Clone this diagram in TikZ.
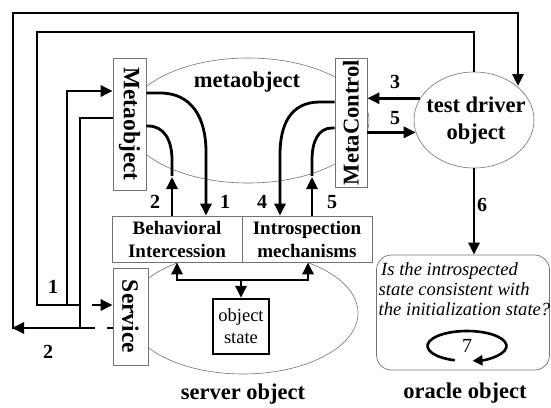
\documentclass[tikz,border=0pt]{standalone}
\usepackage{fontspec}
\usepackage{graphicx}
\setmainfont{Liberation Serif}
\usetikzlibrary{arrows.meta,shapes.geometric,calc}
\begin{document}
\begin{tikzpicture}[x=1pt,y=-1pt,
  graybox/.style={draw=black!55, line width=0.7pt, fill=white, inner sep=0pt},
  grayell/.style={ellipse, draw=black!55, line width=0.6pt, inner sep=0pt},
  wire/.style={line width=2.8pt},
  arr/.style={wire, -{Triangle[length=12pt,width=11pt]}},
  bigbf/.style={font=\fontsize{22.5}{27}\selectfont\bfseries},
  rotbf/.style={font=\fontsize{23.5}{27}\selectfont\bfseries},
  boxbf/.style={font=\fontsize{19}{23}\selectfont\bfseries},
  num/.style={font=\fontsize{20}{22}\selectfont\bfseries, inner sep=0pt},
  oracletext/.style={font=\fontsize{18.6}{20}\selectfont\itshape, inner sep=0pt, anchor=base west},
]
\useasboundingbox (0,0) rectangle (551,407);

% ellipses of the three objects
\node[grayell, minimum width=242, minimum height=125] (meo) at (248,120.5) {};
\node[grayell, minimum width=230, minimum height=122] (srv) at (243,313) {};
\node[grayell, minimum width=120, minimum height=96, fill=white] (td) at (474,120) {};

\node[bigbf] (meolbl) at (247,82) {metaobject};
\node[bigbf, align=center, inner sep=0pt] (tdlbl) at (476,121) {test driver\\object};
\node[bigbf] (srvlbl) at (243,394) {server object};
\node[bigbf] (orlbl) at (465,393) {oracle object};

% boxes
\node[graybox, rotbf, minimum width=33, minimum height=132] (mo) at (129.5,124) {\rotatebox{-90}{Metaobject}};
\node[graybox, rotbf, font=\fontsize{22.6}{27}\selectfont\bfseries, minimum width=32, minimum height=129] (mc) at (351,122.5) {\rotatebox{90}{MetaControl}};
\node[graybox, rotbf, minimum width=35, minimum height=97] (svc) at (130.5,316.5) {\rotatebox{-90}{Service}};
\node[graybox, boxbf, align=center, minimum width=130, minimum height=46] (bi) at (177,239) {Behavioral\\Intercession};
\node[graybox, boxbf, align=center, minimum width=130, minimum height=46] (im) at (307,239) {Introspection\\mechanisms};
\node[draw, line width=2.2pt, fill=white, inner sep=0pt, minimum width=56, minimum height=55,
      align=center, font=\fontsize{18.5}{22}\selectfont] (os) at (241,326.5) {object\\state};

% oracle object
\node[draw=black!55, line width=0.7pt, rounded corners=15pt, minimum width=173, minimum height=115, inner sep=0pt] (or) at (463,312.5) {};
\node[oracletext] (q1) at (381,275) {Is the introspected};
\node[oracletext] (q2) at (378.5,295) {state consistent with};
\node[oracletext] (q3) at (378.5,315) {the initialization state?};
\node[font=\fontsize{20}{22}\selectfont, inner sep=0pt] (seven) at (467,346) {7};
\draw[arr, line width=2.6pt, -{Triangle[length=10pt,width=10pt]}] ($(seven)+(108:39.5 and 15)$) arc[start angle=108, end angle=442, x radius=39.5, y radius=15];

% message 1: test driver -> service, intercepted towards the Metaobject
\draw[wire] (td.north) -- (474,32) -- (37,32) -- (37,305) -- (81.4,305);
\draw[arr] (67,305) -- (67,91) -- (mo.west |- 0,91);
\draw[arr] (92,305) -- (svc.west |- 0,305);
\node[num] (n1a) at (53,287) {1};

% message 2: Metaobject -> test driver
\draw[wire] (mo.west |- 0,118) -- (80,118) -- (80,328);
\draw[arr] (95,328) -- (12,328);
\draw[arr] (13,329.4) -- (13,13) -- (518,13) -- (518,86);
\draw[wire] (107,328) -- (svc.west |- 0,328);
\node[num] (n2a) at (48,352) {2};

% messages 3 and 5 between test driver and MetaControl
\draw[arr] (td.158.7) -- (td.158.7 -| mc.east);
\draw[arr] (td.192.7 -| mc.east) -- (td.192.7);
\node[num] (n3) at (395,82) {3};
\node[num] (n5a) at (395,118) {5};

% message 6: test driver -> oracle
\draw[arr] (td.south) -- (td.south |- or.north);
\node[num] (n6) at (482,205) {6};

% Metaobject <-> Behavioral Intercession
\draw[arr] (mo.east |- 0,93) -- (160,93) .. controls (192,93) and (206,118) .. (206,152) -- (206,0 |- bi.north);
\draw[wire] (mo.east |- 0,126) -- (148,126) .. controls (164,126) and (172,140) .. (172,160) -- (172,176);
\draw[arr] (172,0 |- bi.north) -- (172,177);
\node[num] (n2b) at (155,202) {2};
\node[num] (n1b) at (225,202) {1};

% MetaControl <-> Introspection mechanisms
\draw[arr] (mc.west |- 0,102) -- (320,102) .. controls (290,102) and (280,125) .. (280,155) -- (280,0 |- im.north);
\draw[wire] (mc.west |- 0,128) -- (332,128) .. controls (318,128) and (312,142) .. (312,160) -- (312,176);
\draw[arr] (312,0 |- im.north) -- (312,177);
\node[num] (n4) at (262,202) {4};
\node[num] (n5b) at (332,202) {5};

% object state access
\draw[arr] (177,280) -- (177,0 |- bi.south);
\draw[arr] (176,280) -- (308,280) -- (308,0 |- im.south);
\draw[arr] (241,280) -- (os.north);
\end{tikzpicture}
\end{document}
